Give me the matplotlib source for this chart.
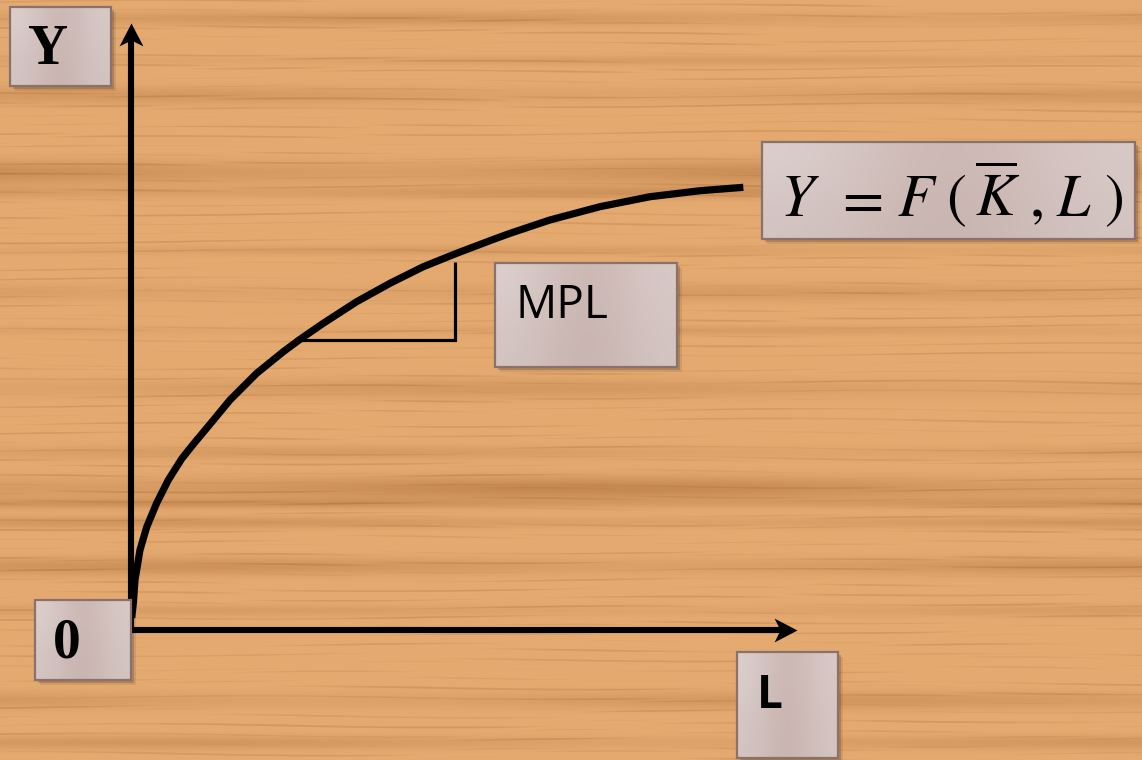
import numpy as np
import matplotlib
matplotlib.use("Agg")
import matplotlib.pyplot as plt
from matplotlib.patches import Rectangle
from matplotlib.path import Path

plt.rcParams["mathtext.fontset"] = "stix"

# ---------------- data ----------------
# production function curve: labour L (x) vs output Y (y), axis units 0..100
curve_L = [0.10, 0.35, 0.60, 1.35, 2.36, 3.86, 5.60, 7.61, 9.35, 11.86, 14.86,
           18.87, 22.87, 25.38, 28.87, 33.89, 38.89, 43.89, 48.90, 53.90,
           56.91, 62.91, 70.42, 77.93, 85.44, 91.94]
curve_Y = [2.0, 4.4, 8.24, 13.18, 16.97, 20.92, 24.71, 28.2, 30.6, 33.9, 37.89,
           42.29, 45.85, 47.89, 50.53, 54.09, 57.12, 59.85, 62.06, 64.14,
           65.35, 67.55, 69.74, 71.38, 72.37, 72.93]
# MPL slope triangle (run along Y=47.8, rise at L=48.6)
tri_L = [25.4, 48.6, 48.6]
tri_Y = [47.8, 47.8, 60.7]
axis_max = 100

labels = {"y": "Y", "origin": "0", "x": "L", "mpl": "MPL"}
formula_parts = [r"$Y$", r"$=$", r"$F$", r"$($", r"$\overline{K}$", r"$,$",
                 r"$L$", r"$)$"]

# ---------------- figure ----------------
W, H = 1142, 760
fig = plt.figure(figsize=(W / 100, H / 100), dpi=100)

# wood-like background (decoration only)
yy = np.arange(H)[:, None].astype(float)
xx = np.arange(W)[None, :].astype(float)
light = np.array([228, 170, 112]) / 255.0
dark = np.array([165, 102, 50]) / 255.0
bands = [(18, 7, 0.30), (60, 5, 0.2), (95, 9, 0.25), (172, 12, 0.45), (192, 6, 0.35),
         (250, 5, 0.2), (292, 9, 0.22), (330, 5, 0.18), (388, 10, 0.25), (452, 7, 0.22),
         (488, 12, 0.5), (503, 5, 0.35), (522, 6, 0.3), (566, 9, 0.35), (610, 6, 0.2),
         (700, 9, 0.28), (742, 7, 0.28)]
d = np.zeros((H, W))
for c, w, s in bands:
    d += s * np.exp(-((yy - c) / w) ** 2) * (0.7 + 0.3 * np.sin(xx / 160.0 + c))
g1 = np.sin(2 * np.pi * yy / 9.3 + 2.2 * np.sin(xx / 210.0 + yy / 37.0))
g2 = np.sin(2 * np.pi * yy / 4.7 + 2.8 * np.sin(xx / 93.0 + yy / 23.0))
g3 = np.sin(2 * np.pi * yy / 13.1 + 1.7 * np.sin(xx / 140.0 + yy / 51.0))
grain = np.clip(0.55 * g1 + 0.45 * g2 + 0.35 * g3 - 0.5, 0, None)
d += 0.33 * grain
d = np.clip(d, 0, 1)
tex = light[None, None, :] * (1 - d[..., None]) + dark[None, None, :] * d[..., None]

bg = fig.add_axes([0, 0, 1, 1])
bg.imshow(tex, extent=(0, W, H, 0), aspect="auto", interpolation="bilinear")
bg.set_xlim(0, W)
bg.set_ylim(H, 0)
bg.axis("off")

# main diagram axes: origin at pixel (131, 630), arrow tips at x=797 and y=23
ax = fig.add_axes([131 / W, (H - 630) / H, 666 / W, 607 / H])
ax.set_xlim(0, axis_max)
ax.set_ylim(0, axis_max)
ax.axis("off")
ax.patch.set_alpha(0)

# notched ("stealth") arrow heads as custom markers, tip at the marker origin
head_r = Path([(0, 0), (-23, 12), (-17, 0), (-23, -12), (0, 0)],
              [Path.MOVETO, Path.LINETO, Path.LINETO, Path.LINETO, Path.CLOSEPOLY])
head_u = Path([(0, 0), (12, -23), (0, -17), (-12, -23), (0, 0)],
              [Path.MOVETO, Path.LINETO, Path.LINETO, Path.LINETO, Path.CLOSEPOLY])
notch_x = axis_max - 15 / 6.66
notch_y = axis_max - 15 / 6.07
ax.plot([0, notch_x], [0, 0], color="black", lw=4.4, solid_capstyle="butt",
        clip_on=False)
ax.plot([0, 0], [0, notch_y], color="black", lw=4.4, solid_capstyle="butt",
        clip_on=False)
ax.plot([axis_max], [0], marker=head_r, markersize=33, color="black",
        markeredgewidth=0, clip_on=False)
ax.plot([0], [axis_max], marker=head_u, markersize=33, color="black",
        markeredgewidth=0, clip_on=False)

ax.plot(curve_L, curve_Y, color="black", lw=5.2, solid_capstyle="butt",
        solid_joinstyle="round", clip_on=False)
ax.plot(tri_L, tri_Y, color="black", lw=2.3, solid_joinstyle="miter",
        solid_capstyle="butt", clip_on=False)

# overlay in pixel coordinates for the label boxes
ov = fig.add_axes([0, 0, 1, 1])
ov.set_xlim(0, W)
ov.set_ylim(H, 0)
ov.axis("off")
ov.patch.set_alpha(0)

box_cols = np.array([[[0.86, 0.81, 0.80], [0.78, 0.69, 0.67], [0.85, 0.79, 0.78]],
                     [[0.83, 0.77, 0.76], [0.77, 0.68, 0.66], [0.83, 0.77, 0.76]]])


def label_box(x0, y0, x1, y1):
    for k, a in ((5, 0.08), (3, 0.16)):
        ov.add_patch(Rectangle((x0 + k, y0 + k), x1 - x0, y1 - y0,
                               facecolor="black", alpha=a, lw=0, zorder=2))
    ov.imshow(box_cols, extent=(x0, x1, y1, y0), aspect="auto",
              interpolation="bicubic", zorder=3)
    ov.add_patch(Rectangle((x0, y0), x1 - x0, y1 - y0, facecolor="none",
                           edgecolor="#8a716c", lw=1.6, zorder=4))


label_box(10, 7, 111, 86)
label_box(35, 600, 131, 680)
label_box(737, 652, 838, 758)
label_box(495, 263, 677, 367)
label_box(762, 142, 1135, 239)
ov.set_xlim(0, W)
ov.set_ylim(H, 0)

ov.text(48, 50, labels["y"], fontsize=40, fontweight="bold",
        family="Liberation Serif", ha="center", va="center", zorder=5)
ov.text(67, 644, labels["origin"], fontsize=40, fontweight="bold",
        family="Liberation Serif", ha="center", va="center", zorder=5)
ov.text(770, 696, labels["x"], fontsize=33, fontweight="bold",
        family="Open Sans", ha="center", va="center", zorder=5)
ov.text(515, 306, labels["mpl"], fontsize=33, family="Open Sans",
        ha="left", va="center", zorder=5)

# formula Y = F(K-bar, L), glyphs spaced as in the slide
part_x = [800, 858, 917, 956, 998, 1036, 1074, 1113]
for s, px in zip(formula_parts, part_x):
    ov.text(px, 216, s, fontsize=43, ha="center", va="baseline", zorder=5)

fig.savefig("out.png", dpi=100)
